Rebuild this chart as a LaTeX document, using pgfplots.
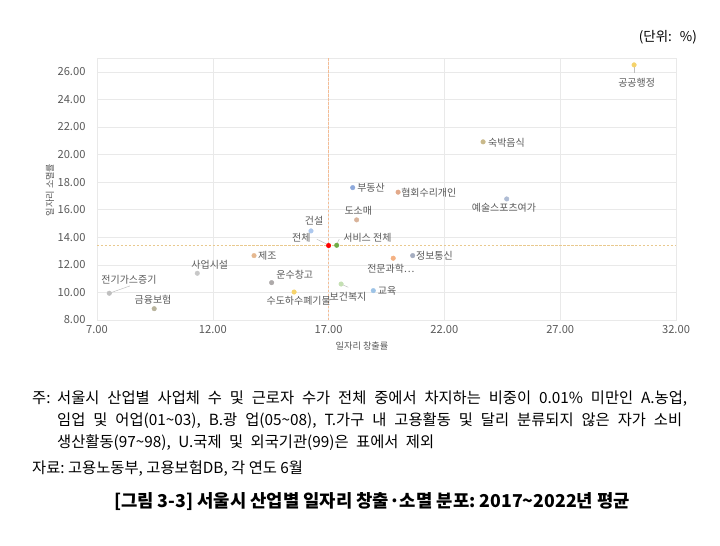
\documentclass[border=0pt]{standalone}
\usepackage{pgfplots}
\pgfplotsset{compat=1.18}
\usepackage{fontspec}
\setmainfont{Noto Sans CJK KR}
\frenchspacing
\definecolor{gridc}{HTML}{E9E9E9}
\definecolor{tickc}{HTML}{595959}
\definecolor{leadc}{HTML}{BFBFBF}
\definecolor{dashh}{HTML}{E9C98E}
\definecolor{dashv}{HTML}{F4BC94}
\definecolor{c01}{HTML}{F5D36B}
\definecolor{c02}{HTML}{C9B98B}
\definecolor{c03}{HTML}{AFBCD4}
\definecolor{c04}{HTML}{8EA9DB}
\definecolor{c05}{HTML}{E2A98A}
\definecolor{c06}{HTML}{D9B39A}
\definecolor{c07}{HTML}{70AD47}
\definecolor{c08}{HTML}{FF0000}
\definecolor{c09}{HTML}{ADC8EE}
\definecolor{c10}{HTML}{E5B890}
\definecolor{c11}{HTML}{C8C8C8}
\definecolor{c12}{HTML}{BFBFBF}
\definecolor{c13}{HTML}{B8B39C}
\definecolor{c14}{HTML}{AEAAAA}
\definecolor{c15}{HTML}{F6D36B}
\definecolor{c16}{HTML}{C5E0B4}
\definecolor{c17}{HTML}{9DC3E6}
\definecolor{c18}{HTML}{F4B183}
\definecolor{c19}{HTML}{A5ADC0}
\pgfplotstableread{
x y cls
30.19 26.50 c01
23.67 20.92 c02
24.69 16.78 c03
18.04 17.60 c04
20.00 17.27 c05
18.21 15.26 c06
17.35 13.42 c07
17.00 13.40 c08
16.24 14.46 c09
13.78 12.67 c10
11.33 11.39 c11
7.53 9.94 c12
9.47 8.82 c13
14.54 10.71 c14
15.51 10.03 c15
17.54 10.61 c16
18.93 10.13 c17
19.79 12.48 c18
20.63 12.67 c19
}\pointdata
\newcommand{\lab}{\fontsize{10}{11}\selectfont}
\begin{document}
\begin{tikzpicture}[x=1bp,y=1bp]
\useasboundingbox (0,0) rectangle (720,-546);
\begin{axis}[
  at={(97bp,-320bp)}, anchor=south west,
  scale only axis, width=579bp, height=262bp,
  xmin=7, xmax=32, ymin=8, ymax=27,
  xtick={7,12,17,22,27,32}, ytick={8,10,12,14,16,18,20,22,24,26},
  grid=major, grid style={draw=gridc, line width=0.5pt},
  axis line style={draw=gridc, line width=0.5pt},
  tick style={draw=none},
  ticklabel style={font=\fontsize{11.2}{13}\selectfont, text=tickc,
    /pgf/number format/assume math mode=true,
    /pgf/number format/fixed, /pgf/number format/fixed zerofill,
    /pgf/number format/precision=2},
  yticklabel style={xshift=-8bp},
  xticklabel style={yshift=-1.5bp},
  clip=false,
  scatter/classes={
    c01={mark=*, c01}, c02={mark=*, c02}, c03={mark=*, c03}, c04={mark=*, c04},
    c05={mark=*, c05}, c06={mark=*, c06}, c07={mark=*, c07}, c08={mark=*, c08},
    c09={mark=*, c09}, c10={mark=*, c10}, c11={mark=*, c11}, c12={mark=*, c12},
    c13={mark=*, c13}, c14={mark=*, c14}, c15={mark=*, c15}, c16={mark=*, c16},
    c17={mark=*, c17}, c18={mark=*, c18}, c19={mark=*, c19}},
]
% reference lines
\addplot[draw=dashh, dash pattern=on 2.5pt off 1.5pt, line width=0.7pt, forget plot] coordinates {(7,13.4) (32,13.4)};
\addplot[draw=dashv, dash pattern=on 2.5pt off 1.5pt, line width=0.7pt, forget plot] coordinates {(17.0,8) (17.0,27)};
% leader lines
\draw[leadc, line width=0.5pt] (axis cs:30.19,26.45) -- (axis cs:30.19,25.9);
\draw[leadc, line width=0.5pt] (axis cs:7.53,9.94) -- (axis cs:8.42,10.47);
\draw[leadc, line width=0.5pt] (axis cs:16.49,13.86) -- (axis cs:16.94,13.49);
\draw[leadc, line width=0.5pt] (axis cs:17.37,13.57) -- (axis cs:17.46,13.86);
\draw[leadc, line width=0.5pt] (axis cs:17.63,10.54) -- (axis cs:17.85,10.37);
% points
\addplot[scatter, only marks, mark size=2.3pt, scatter src=explicit symbolic]
  table[x=x, y=y, meta=cls] {\pointdata};
% data labels
\begin{scope}[every node/.style={font=\lab, text=tickc, inner sep=0pt}]
\node at (axis cs:30.30,25.18) {공공행정};
\node[anchor=west] at (axis cs:23.88,20.84) {숙박음식};
\node at (axis cs:24.57,16.13) {예술스포츠여가};
\node[anchor=west] at (axis cs:18.23,17.58) {부동산};
\node[anchor=west] at (axis cs:20.13,17.24) {협회수리개인};
\node at (axis cs:18.28,15.93) {도소매};
\node[anchor=west] at (axis cs:17.63,13.97) {서비스 전체};
\node at (axis cs:15.82,13.97) {전체};
\node at (axis cs:16.37,15.21) {건설};
\node[anchor=west] at (axis cs:13.95,12.64) {제조};
\node at (axis cs:11.87,12.04) {사업시설};
\node at (axis cs:8.38,10.95) {전기가스증기};
\node at (axis cs:9.42,9.45) {금융보험};
\node at (axis cs:15.54,11.27) {운수창고};
\node at (axis cs:15.71,9.38) {수도하수폐기물};
\node at (axis cs:17.84,9.69) {보건복지};
\node[anchor=west] at (axis cs:19.12,10.10) {교육};
\node at (axis cs:19.69,11.75) {전문과학…};
\node[anchor=west] at (axis cs:20.77,12.64) {정보통신};
\end{scope}
\end{axis}
% axis titles
\node[font=\fontsize{9.2}{10}\selectfont, text=tickc] at (362,-346) {일자리 창출률};
\node[font=\fontsize{9.2}{10}\selectfont, text=tickc, rotate=90] at (50,-190) {일자리 소멸률};
% unit
\node[anchor=base east, font=\fontsize{13.5}{15}\selectfont, inner sep=0pt] at (697,-42) {(단위:\hspace{8bp}\%)};
% notes
\begin{scope}[every node/.style={anchor=base west, inner sep=0pt, font=\fontsize{15.4}{17}\selectfont}]
\node at (32,-403) {\makebox[25bp][l]{주:}\makebox[630bp][s]{서울시 산업별 사업체 수 및 근로자 수가 전체 중에서 차지하는 비중이 0.01\% 미만인 A.농업,}};
\node at (57,-425) {\makebox[625bp][s]{임업 및 어업(01\textasciitilde 03), B.광 업(05\textasciitilde 08), T.가구 내 고용활동 및 달리 분류되지 않은 자가 소비}};
\node at (57,-447) {\makebox[377bp][s]{생산활동(97\textasciitilde 98), U.국제 및 외국기관(99)은 표에서 제외}};
\node at (32,-473) {자료: 고용노동부, 고용보험DB, 각 연도 6월};
\end{scope}
\node[anchor=base, inner sep=0pt, font=\fontsize{17.8}{19}\selectfont\bfseries] at (372,-507) {[그림 3-3] 서울시 산업별 일자리 창출·소멸 분포: 2017\textasciitilde 2022년 평균};
\end{tikzpicture}
\end{document}
